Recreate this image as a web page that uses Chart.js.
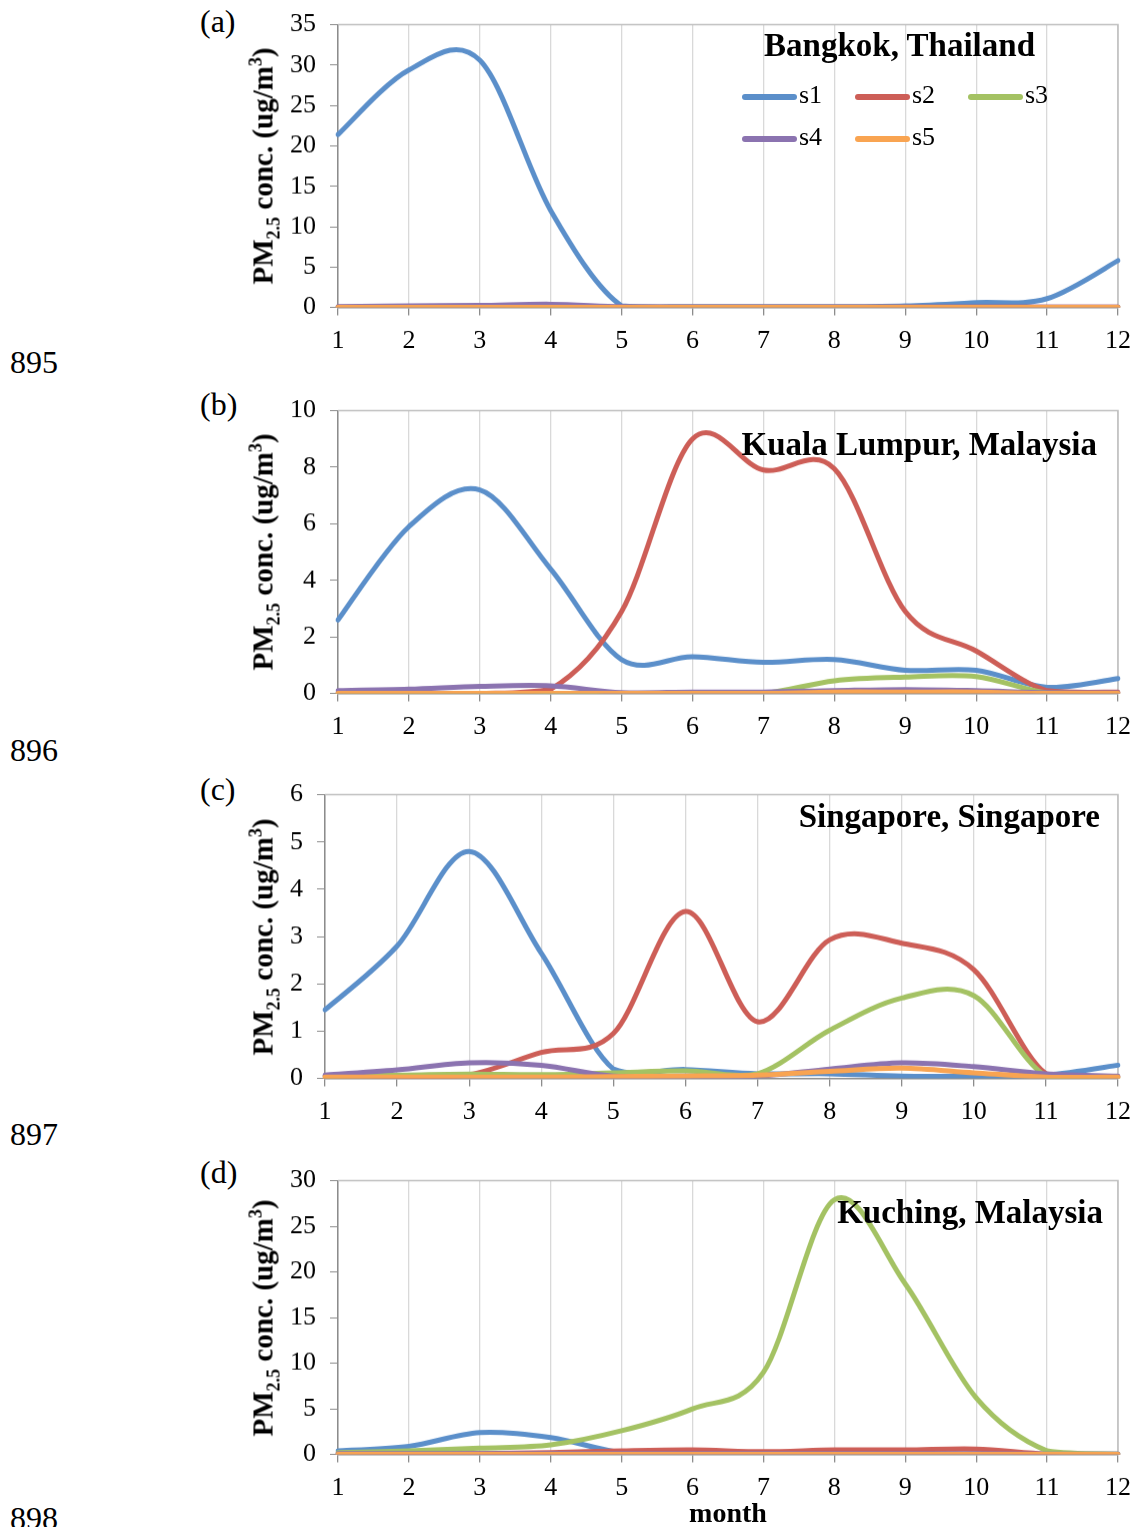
<!DOCTYPE html>
<html>
<head>
<meta charset="utf-8">
<script src="https://cdn.jsdelivr.net/npm/chart.js@4.4.1/dist/chart.umd.min.js"></script>
<style>
  body { margin: 0; background: #fff; width: 1137px; height: 1527px; overflow: hidden; position: relative; font-family: "Liberation Serif", serif; color: #000; }
  .wrap { position: absolute; left: 270px; line-height: 0; }
  .wrap canvas { display: block; }
  .side { position: absolute; font-size: 32px; line-height: 1; white-space: nowrap; }
  .ytitle { position: absolute; font-weight: bold; font-size: 29px; line-height: 1; white-space: nowrap; transform: translate(-50%, -50%) rotate(-90deg); }
  .ytitle sub, .ytitle sup { font-size: 0.62em; line-height: 0; }
  .ptitle { position: absolute; font-weight: bold; font-size: 33px; line-height: 1; white-space: nowrap; }
  .leg { position: absolute; font-size: 26px; line-height: 1; white-space: nowrap; }
  .leg i { position: absolute; height: 6px; width: 55px; border-radius: 3px; }
  .xtitle { position: absolute; font-weight: bold; font-size: 28px; line-height: 1; transform: translate(-50%, -50%); }
</style>
</head>
<body>
<script>
// ---------------- data ----------------
const months = ['1', '2', '3', '4', '5', '6', '7', '8', '9', '10', '11', '12'];
const seriesNames = ['s1', 's2', 's3', 's4', 's5'];
const seriesColors = ['#5B8FCA', '#CD5E57', '#A4C263', '#8B73B0', '#F9A451'];

// (a) Bangkok, Thailand
const bangkokS1 = [21.4, 29.4, 30.6, 12.0, 0.2, 0.1, 0.1, 0.1, 0.2, 0.6, 1.1, 5.8];
const bangkokS2 = [0.05, 0.05, 0.05, 0.05, 0.05, 0.05, 0.05, 0.05, 0.05, 0.05, 0.05, 0.05];
const bangkokS3 = [0, 0, 0, 0, 0, 0, 0, 0, 0, 0, 0, 0];
const bangkokS4 = [0.1, 0.2, 0.25, 0.4, 0.1, 0.05, 0.05, 0.05, 0.05, 0.05, 0.05, 0.05];
const bangkokS5 = [0, 0, 0, 0, 0, 0, 0, 0, 0, 0, 0, 0];

// (b) Kuala Lumpur, Malaysia
const klS1 = [2.6, 5.9, 7.2, 4.4, 1.2, 1.3, 1.1, 1.2, 0.82, 0.82, 0.22, 0.53];
const klS2 = [0, 0, 0, 0.15, 2.9, 9.0, 7.9, 7.95, 2.9, 1.5, 0.1, 0.05];
const klS3 = [0, 0, 0, 0, 0, 0, 0, 0.45, 0.58, 0.6, 0.02, 0];
const klS4 = [0.1, 0.15, 0.25, 0.27, 0.03, 0.05, 0.05, 0.1, 0.14, 0.1, 0.03, 0.02];
const klS5 = [0, 0, 0, 0, 0, 0, 0, 0.05, 0.05, 0.05, 0, 0];

// (c) Singapore, Singapore
const sgS1 = [1.45, 2.8, 4.8, 2.65, 0.2, 0.19, 0.1, 0.1, 0.05, 0.05, 0.07, 0.28];
const sgS2 = [0.05, 0.05, 0.08, 0.55, 0.95, 3.53, 1.2, 2.93, 2.86, 2.3, 0.1, 0.04];
const sgS3 = [0.05, 0.07, 0.09, 0.08, 0.12, 0.16, 0.1, 1.02, 1.7, 1.75, 0.05, 0.02];
const sgS4 = [0.07, 0.18, 0.33, 0.28, 0.05, 0.05, 0.05, 0.2, 0.33, 0.25, 0.1, 0.05];
const sgS5 = [0.03, 0.03, 0.03, 0.03, 0.04, 0.05, 0.07, 0.15, 0.22, 0.12, 0.03, 0.03];

// (d) Kuching, Malaysia
const kuS1 = [0.4, 0.9, 2.4, 1.85, 0.2, 0.05, 0.05, 0.05, 0.05, 0.05, 0.05, 0.05];
const kuS2 = [0.1, 0.1, 0.1, 0.2, 0.4, 0.5, 0.3, 0.5, 0.5, 0.6, 0.05, 0];
const kuS3 = [0.2, 0.4, 0.7, 1.05, 2.6, 5.0, 9.0, 27.9, 18.7, 6.2, 0.4, 0.05];
const kuS4 = [0.1, 0.1, 0.1, 0.1, 0.1, 0.1, 0.1, 0.1, 0.1, 0.1, 0.05, 0.05];
const kuS5 = [0, 0, 0, 0, 0, 0, 0, 0, 0, 0, 0, 0];

// ---------------- panels ----------------
const FONT = '"Liberation Serif", serif';
const AXIS = '#8c8c8c';
const PLOT_RIGHT = 1118;

const panels = [
  { tag: '(a)', num: '895', title: 'Bangkok, Thailand', series: [bangkokS1, bangkokS2, bangkokS3, bangkokS4, bangkokS5],
    ymax: 35, step: 5, top: 25, bottom: 307, left: 338, titleRight: 1035, titleBase: 58, tagY: 22, numY: 363 },
  { tag: '(b)', num: '896', title: 'Kuala Lumpur, Malaysia', series: [klS1, klS2, klS3, klS4, klS5],
    ymax: 10, step: 2, top: 411, bottom: 693, left: 338, titleRight: 1097, titleBase: 457, tagY: 405, numY: 751 },
  { tag: '(c)', num: '897', title: 'Singapore, Singapore', series: [sgS1, sgS2, sgS3, sgS4, sgS5],
    ymax: 6, step: 1, top: 795, bottom: 1078, left: 325, titleRight: 1100, titleBase: 829, tagY: 790, numY: 1135 },
  { tag: '(d)', num: '898', title: 'Kuching, Malaysia', series: [kuS1, kuS2, kuS3, kuS4, kuS5],
    ymax: 30, step: 5, top: 1181, bottom: 1454, left: 338, titleRight: 1103, titleBase: 1225, tagY: 1173, numY: 1519 }
];

// grey frame on the top and right side of the plot
const framePlugin = {
  id: 'frame',
  beforeDatasetsDraw(chart) {
    const a = chart.chartArea, ctx = chart.ctx;
    ctx.save();
    ctx.strokeStyle = '#bfbfbf';
    ctx.lineWidth = 1.5;
    ctx.beginPath();
    ctx.moveTo(a.left, a.top);
    ctx.lineTo(a.right, a.top);
    ctx.lineTo(a.right, a.bottom);
    ctx.stroke();
    ctx.restore();
  }
};

// Excel-like smoothing: evenly weighted Catmull-Rom control points
const smoothPlugin = {
  id: 'excelSmooth',
  beforeDatasetDraw(chart, args) {
    const meta = args.meta, line = meta.dataset, pts = meta.data;
    const area = chart.chartArea;
    if (!line || pts.length < 3) return;
    line.updateControlPoints(area, 'x');
    const clampY = (v) => Math.min(Math.max(v, area.top), area.bottom);
    for (let i = 0; i < pts.length; i++) {
      const cur = pts[i], prev = pts[i - 1] || cur, next = pts[i + 1] || cur;
      const dx = (next.x - prev.x) / 6, dy = (next.y - prev.y) / 6;
      cur.cp1x = cur.x - dx; cur.cp1y = clampY(cur.y - dy);
      cur.cp2x = cur.x + dx; cur.cp2y = clampY(cur.y + dy);
    }
    line._path = undefined;
  }
};

function addDiv(cls, html, style) {
  const d = document.createElement('div');
  d.className = cls;
  d.innerHTML = html;
  Object.assign(d.style, style);
  document.body.appendChild(d);
  return d;
}

panels.forEach((p) => {
  const padTop = 25, xAxisH = 55;
  const w = 867;
  const h = padTop + (p.bottom - p.top) + xAxisH;
  const wrap = addDiv('wrap', '', { top: (p.top - padTop) + 'px' });
  const canvas = document.createElement('canvas');
  canvas.width = w;
  canvas.height = h;
  wrap.appendChild(canvas);

  const chart = new Chart(canvas.getContext('2d'), {
    type: 'line',
    data: {
      labels: months,
      datasets: p.series.map((vals, i) => ({
        label: seriesNames[i],
        data: vals,
        borderColor: seriesColors[i],
        backgroundColor: seriesColors[i],
        order: 5 - i
      }))
    },
    options: {
      responsive: false,
      maintainAspectRatio: false,
      animation: false,
      layout: { padding: { top: padTop, right: 19, left: 0, bottom: 0 } },
      plugins: { legend: { display: false }, tooltip: { enabled: false } },
      elements: {
        point: { radius: 0 },
        line: { tension: 0.35, borderWidth: 5, borderCapStyle: 'round', borderJoinStyle: 'round' }
      },
      scales: {
        x: {
          offset: false,
          grid: { color: '#d9d9d9', lineWidth: 1.3, tickColor: AXIS, tickLength: 8 },
          border: { color: AXIS, width: 1.5 },
          ticks: { color: '#000', font: { family: FONT, size: 26 }, padding: 10, maxRotation: 0, autoSkip: false },
          afterFit: (s) => { s.height = xAxisH; }
        },
        y: {
          min: 0,
          max: p.ymax,
          grid: { drawOnChartArea: false, tickColor: AXIS, tickLength: 8 },
          border: { color: AXIS, width: 1.5 },
          ticks: { stepSize: p.step, color: '#000', font: { family: FONT, size: 26 }, padding: 14 },
          afterFit: (s) => { s.width = p.left - 270; }
        }
      }
    },
    plugins: [framePlugin, smoothPlugin]
  });

  // resize / shift so the plot area lands where the reference has it
  const a = chart.chartArea;
  const needW = w + ((PLOT_RIGHT - p.left) - (a.right - a.left));
  const needH = h + ((p.bottom - p.top) - (a.bottom - a.top));
  if (needW !== w || needH !== h) chart.resize(needW, needH);
  const b = chart.chartArea;
  wrap.style.left = (p.left - b.left) + 'px';
  wrap.style.top = (p.top - b.top) + 'px';

  // side labels, axis title and panel title
  addDiv('side', p.tag, { left: '200px', top: (p.tagY - 17) + 'px' });
  addDiv('side', p.num, { left: '10px', top: (p.numY - 17) + 'px' });
  addDiv('ytitle', 'PM<sub>2.5</sub> conc. (ug/m<sup>3</sup>)', { left: '263px', top: ((p.top + p.bottom) / 2) + 'px' });
  addDiv('ptitle', p.title, { right: (1137 - p.titleRight) + 'px', top: (p.titleBase - 29) + 'px' });
});

// legend of panel (a)
const legCols = [742, 855, 968];
const legRows = [98, 140];
seriesNames.forEach((name, i) => {
  const x = legCols[i % 3], y = legRows[Math.floor(i / 3)];
  const d = addDiv('leg', name, { left: (x + 57) + 'px', top: (y - 16) + 'px' });
  const sw = document.createElement('i');
  sw.style.background = seriesColors[i];
  sw.style.left = '-57px';
  sw.style.top = '12px';
  d.appendChild(sw);
});

addDiv('xtitle', 'month', { left: '728px', top: '1513px' });
</script>
</body>
</html>
